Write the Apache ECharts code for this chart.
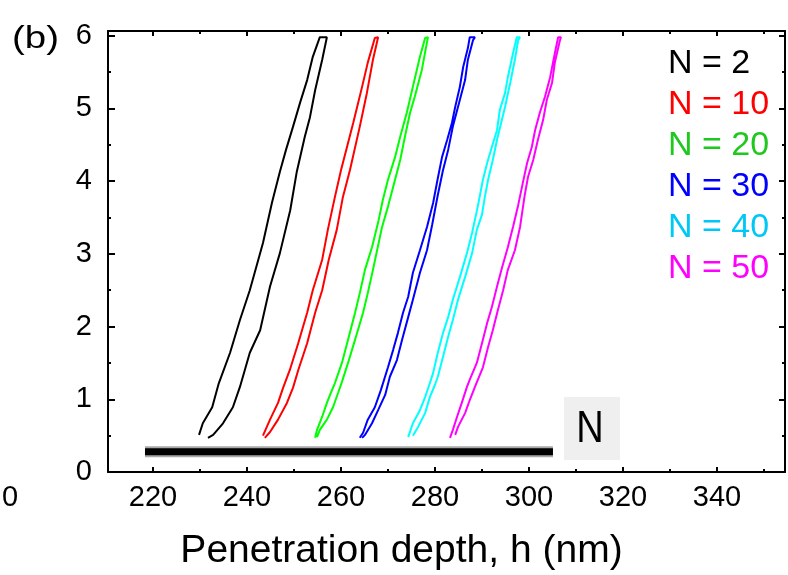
<!DOCTYPE html>
<html><head><meta charset="utf-8">
<script src="https://cdn.jsdelivr.net/npm/echarts@6/dist/echarts.min.js"></script>
<style>html,body{margin:0;padding:0;background:#fff}#c{width:788px;height:575px}</style>
</head><body><div id="c"></div>
<script>
// ---- data (penetration depth h [nm], load P) ----
const seriesNames = ['N = 2', 'N = 10', 'N = 20', 'N = 30', 'N = 40', 'N = 50'];
const lineColors = ['#000000', '#ff0000', '#00ff00', '#0000ff', '#00ffff', '#ff00ff'];
const legendColors = ['#000000', '#ff0000', '#1ec81e', '#0000ff', '#00c8f5', '#ff00ff'];

const loopN2 = [[229.8,0.51],[230.6,0.67],[232.6,0.89],[234.0,1.22],[236.4,1.64],[238.5,2.09],[240.6,2.50],[243.4,3.15],[245.3,3.70],[247.0,4.13],[248.3,4.43],[249.8,4.75],[251.3,5.08],[252.8,5.39],[254.0,5.71],[255.5,5.98],[257.0,5.98],
  [256.0,5.67],[254.5,5.25],[253.4,4.88],[252.3,4.61],[250.6,4.13],[249.2,3.60],[247.0,3.01],[244.9,2.55],[242.8,1.95],[240.6,1.64],[238.5,1.17],[237.0,0.89],[234.9,0.67],[232.8,0.51],[231.7,0.47]];
const loopN10 = [[243.4,0.50],[244.9,0.72],[246.6,0.95],[247.7,1.16],[249.1,1.40],[250.9,1.77],[252.8,2.19],[254.0,2.50],[256.0,2.92],[257.2,3.33],[258.7,3.78],[260.0,4.15],[262.6,4.80],[264.5,5.30],[265.7,5.63],[267.2,5.97],[267.9,5.98],
  [266.8,5.67],[265.5,5.21],[264.0,4.75],[261.9,4.15],[260.4,3.78],[259.1,3.33],[257.4,2.92],[256.0,2.50],[254.5,2.19],[252.8,1.77],[250.9,1.40],[249.8,1.16],[248.5,0.95],[246.6,0.72],[244.9,0.55],[243.8,0.47]];
const loopN20 = [[254.5,0.47],[254.9,0.58],[256.0,0.76],[257.0,0.95],[258.1,1.13],[258.7,1.22],[260.2,1.50],[261.5,1.82],[263.0,2.19],[264.0,2.46],[265.1,2.78],[266.6,3.09],[267.9,3.43],[268.9,3.74],[270.0,4.02],[271.5,4.33],[272.6,4.61],[274.0,4.94],[275.3,5.30],[276.8,5.71],[277.9,5.97],[278.5,5.98],
  [277.2,5.53],[275.7,5.16],[274.7,4.94],[273.6,4.61],[272.6,4.29],[271.1,3.92],[270.0,3.65],[268.7,3.36],[266.8,2.78],[265.7,2.46],[264.7,2.19],[263.0,1.82],[261.5,1.50],[260.2,1.24],[259.4,1.09],[258.3,0.89],[257.0,0.72],[255.5,0.58],[254.9,0.48]];
const loopN30 = [[264.0,0.47],[264.7,0.54],[265.7,0.72],[267.2,0.89],[268.5,1.13],[270.0,1.44],[271.1,1.68],[272.1,1.91],[273.2,2.19],[274.3,2.41],[275.3,2.74],[276.8,3.05],[278.3,3.37],[279.6,3.70],[280.6,4.04],[281.5,4.33],[282.6,4.57],[283.6,4.80],[284.3,5.02],[285.3,5.30],[286.0,5.57],[287.0,5.83],[287.4,5.98],[288.5,5.98],
  [288.1,5.94],[287.0,5.67],[286.4,5.39],[285.3,5.12],[283.8,4.75],[282.8,4.43],[281.7,4.15],[280.6,3.81],[279.4,3.40],[278.3,3.05],[276.8,2.74],[275.3,2.37],[274.3,2.13],[273.0,1.82],[271.9,1.54],[270.4,1.31],[269.4,1.06],[267.9,0.85],[266.6,0.67],[265.1,0.51],[264.5,0.47]];
const loopN40 = [[274.3,0.48],[275.3,0.67],[276.8,0.85],[277.9,1.03],[278.9,1.22],[279.6,1.36],[280.6,1.64],[281.7,1.91],[282.8,2.13],[283.8,2.37],[285.3,2.68],[286.8,3.01],[287.9,3.29],[289.1,3.65],[290.2,4.02],[291.1,4.25],[292.1,4.47],[293.2,4.70],[293.8,4.98],[294.9,5.21],[295.5,5.43],[296.6,5.76],[297.4,5.98],[298.1,5.98],
  [297.7,5.94],[297.0,5.67],[296.0,5.35],[294.9,5.02],[293.2,4.57],[292.3,4.29],[291.3,4.02],[290.6,3.78],[290.0,3.54],[288.9,3.33],[287.9,3.01],[286.4,2.68],[284.9,2.37],[283.8,2.09],[282.8,1.86],[281.7,1.58],[280.6,1.31],[280.0,1.20],[278.9,1.03],[277.9,0.81],[276.4,0.62],[275.3,0.50]];
const loopN50 = [[283.2,0.47],[283.8,0.58],[284.7,0.76],[285.7,0.95],[286.8,1.17],[287.4,1.27],[288.9,1.50],[290.0,1.77],[291.1,2.05],[292.1,2.27],[293.2,2.55],[294.3,2.82],[295.5,3.09],[296.6,3.37],[297.7,3.67],[298.7,3.98],[299.6,4.25],[300.6,4.47],[301.3,4.70],[302.3,4.94],[303.4,5.16],[304.5,5.43],[305.5,5.76],[306.2,5.98],[306.8,5.98],
  [306.6,5.94],[305.5,5.63],[304.9,5.35],[303.8,5.12],[303.0,4.84],[301.9,4.57],[300.9,4.29],[299.8,4.06],[299.1,3.81],[298.1,3.37],[297.0,3.05],[295.5,2.78],[294.5,2.50],[293.4,2.23],[292.3,1.95],[291.3,1.72],[290.2,1.44],[288.5,1.17],[287.4,0.99],[286.4,0.81],[284.9,0.62],[284.3,0.51]];
const loops = [loopN2, loopN10, loopN20, loopN30, loopN40, loopN50];

// arrow indicating increasing N
const arrowDepth = [218.3, 305.1];
const arrowLoad = 0.28;

// axes
const xRange = [210.43, 354.47];
const yRange = [0, 6.065];
const xMajorTicks = [220, 240, 260, 280, 300, 320, 340];
const xMinorTicks = [230, 250, 270, 290, 310, 330, 350];
const yMajorTicks = [0, 1, 2, 3, 4, 5, 6];
const yMinorTicks = [0.5, 1.5, 2.5, 3.5, 4.5, 5.5];
const xTitle = 'Penetration depth, h (nm)';

const FONT = '"Liberation Sans", Arial, sans-serif';

function xAx(pos, ticks, len, showLine, labels) {
  return {
    type: 'value', position: pos, min: xRange[0], max: xRange[1],
    axisLine: { show: showLine, onZero: false, lineStyle: { color: '#000', width: 2 } },
    axisTick: { show: true, inside: true, length: len, customValues: ticks, lineStyle: { color: '#000', width: 2 } },
    axisLabel: labels ? { show: true, customValues: labels, fontSize: 29, color: '#000', margin: 11, fontFamily: FONT } : { show: false },
    splitLine: { show: false }, minorTick: { show: false }
  };
}
function yAx(pos, ticks, len, showLine, labels) {
  return {
    type: 'value', position: pos, min: yRange[0], max: yRange[1],
    axisLine: { show: showLine, onZero: false, lineStyle: { color: '#000', width: 2 } },
    axisTick: { show: true, inside: true, length: len, customValues: ticks, lineStyle: { color: '#000', width: 2 } },
    axisLabel: labels ? { show: true, customValues: labels, fontSize: 29, color: '#000', margin: 16, fontFamily: FONT } : { show: false },
    splitLine: { show: false }, minorTick: { show: false }
  };
}

const xAxes = [
  Object.assign(xAx('bottom', xMajorTicks, 5, true, xMajorTicks), {
    name: xTitle, nameLocation: 'middle', nameGap: 60,
    nameTextStyle: { fontSize: 39, color: '#000', fontFamily: FONT, padding: [0, 90, 0, 0] }
  }),
  xAx('bottom', xMinorTicks, 3, false, null),
  xAx('top', xMajorTicks, 5, true, null),
  xAx('top', xMinorTicks, 3, false, null)
];
const yAxes = [
  yAx('left', yMajorTicks, 7, true, yMajorTicks),
  yAx('left', yMinorTicks, 3, false, null),
  yAx('right', yMajorTicks, 6, true, null),
  yAx('right', yMinorTicks, 3, false, null)
];

const series = [
  { type: 'line', name: 'arrowShade', data: arrowDepth.map(h => [h, arrowLoad]), showSymbol: false, silent: true,
    lineStyle: { color: '#a8a8a8', width: 11, cap: 'butt' }, z: 1 },
  { type: 'line', name: 'arrow', data: arrowDepth.map(h => [h, arrowLoad]), showSymbol: false, silent: true,
    lineStyle: { color: '#000', width: 7, cap: 'butt' }, z: 2 }
].concat(loops.map((d, i) => ({
  type: 'line', name: seriesNames[i], data: d, showSymbol: false, silent: true,
  color: lineColors[i], lineStyle: { color: lineColors[i], width: 2 }, z: 3
})));

const chart = echarts.init(document.getElementById('c'), null, { renderer: 'canvas' });
chart.setOption({
  animation: false,
  backgroundColor: '#fff',
  grid: { left: 108, right: 3, top: 31, bottom: 103, containLabel: false, outerBoundsMode: 'none' },
  xAxis: xAxes,
  yAxis: yAxes,
  legend: {
    orient: 'vertical', left: 658, top: 42, padding: 5, itemGap: 7,
    itemWidth: 0, itemHeight: 34, icon: 'rect', selectedMode: false,
    itemStyle: { opacity: 0 }, lineStyle: { opacity: 0 },
    textStyle: { fontSize: 34, lineHeight: 34, fontFamily: FONT },
    data: seriesNames.map((n, i) => ({ name: n, textStyle: { color: legendColors[i] } }))
  },
  graphic: [
    { type: 'text', left: 12, top: 23, scaleX: 1.2, style: { text: '(b)', fontSize: 32, fontFamily: FONT, fill: '#000' } },
    { type: 'text', x: 10, y: 498, style: { text: '0', fontSize: 29, fontFamily: FONT, fill: '#000', align: 'center', verticalAlign: 'middle' } },
    { type: 'rect', shape: { x: 564, y: 397, width: 56, height: 63 }, style: { fill: '#efefef' }, z: 0 },
    { type: 'text', x: 590, y: 430, scaleY: 1.18, style: { text: 'N', fontSize: 38, fontFamily: FONT, fill: '#000', align: 'center', verticalAlign: 'middle' }, z: 1 }
  ],
  series: series
});
</script></body></html>
